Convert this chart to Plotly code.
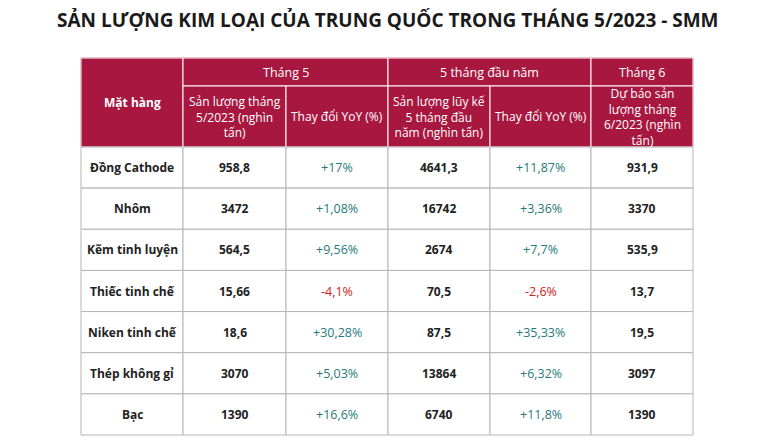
import plotly.graph_objects as go

# dữ liệu bảng
mat_hang = ["Đồng Cathode", "Nhôm", "Kẽm tinh luyện", "Thiếc tinh chế",
            "Niken tinh chế", "Thép không gỉ", "Bạc"]
sl_thang5 = ["958,8", "3472", "564,5", "15,66", "18,6", "3070", "1390"]
yoy_thang5 = ["+17%", "+1,08%", "+9,56%", "-4,1%", "+30,28%", "+5,03%", "+16,6%"]
luy_ke = ["4641,3", "16742", "2674", "70,5", "87,5", "13864", "6740"]
yoy_luy_ke = ["+11,87%", "+3,36%", "+7,7%", "-2,6%", "+35,33%", "+6,32%", "+11,8%"]
du_bao = ["931,9", "3370", "535,9", "13,7", "19,5", "3097", "1390"]

nhom_cot = ["Tháng 5", "5 tháng đầu năm", "Tháng 6"]
tieu_de_cot = ["Sản lượng tháng<br>5/2023 (nghìn<br>tấn)", "Thay đổi YoY (%)",
               "Sản lượng lũy kế<br>5 tháng đầu<br>năm (nghìn tấn)", "Thay đổi YoY (%)",
               "Dự báo sản<br>lượng tháng<br>6/2023 (nghìn<br>tấn)"]

W, H = 772, 446
OFF = 8  # lề mặc định của trang
RED = "#A8173F"
GREEN = "#1f7a7a"
NEG = "#cc2222"
FONT = "Open Sans"

xs = [81, 183, 286, 388, 490, 591, 693]
y_top, y_h1, y_h2 = 58, 86, 147
row_h = (435 - y_h2) / len(mat_hang)

fig = go.Figure()
shapes, ann = [], []


def rect(x0, y0, x1, y1, fill, line):
    shapes.append(dict(type="rect", xref="x", yref="y", x0=x0, x1=x1, y0=y0, y1=y1,
                       fillcolor=fill, line=dict(color=line, width=1)))


def text(x, y, s, color, bold=False, size=12):
    ann.append(dict(x=x, y=y, xref="x", yref="y", text=f"<b>{s}</b>" if bold else s,
                    showarrow=False, font=dict(family=FONT, size=size, color=color),
                    xanchor="center", yanchor="middle"))


# header
rect(xs[0], y_top, xs[-1], y_h2, RED, RED)
rect(xs[0], y_top, xs[1], y_h2, RED, "white")
spans = [(1, 3), (3, 5), (5, 6)]
for (a, b), s in zip(spans, nhom_cot):
    rect(xs[a], y_top, xs[b], y_h1, RED, "white")
    text((xs[a] + xs[b]) / 2, (y_top + y_h1) / 2, s, "white", size=12.5)
for i, s in enumerate(tieu_de_cot):
    rect(xs[i + 1], y_h1, xs[i + 2], y_h2, RED, "white")
    text((xs[i + 1] + xs[i + 2]) / 2, (y_h1 + y_h2) / 2, s, "white")
text((xs[0] + xs[1]) / 2, (y_top + y_h2) / 2, "Mặt hàng", "white", bold=True)

# body
cols = [mat_hang, sl_thang5, yoy_thang5, luy_ke, yoy_luy_ke, du_bao]
for r in range(len(mat_hang)):
    y0 = y_h2 + r * row_h
    for c, col in enumerate(cols):
        rect(xs[c], y0, xs[c + 1], y0 + row_h, "white", "#b5b5b5")
        v = col[r]
        if c in (2, 4):
            text((xs[c] + xs[c + 1]) / 2, y0 + row_h / 2, v,
                 NEG if v.startswith("-") else GREEN, size=12.5)
        else:
            text((xs[c] + xs[c + 1]) / 2, y0 + row_h / 2, v, "#222", bold=True)

text(W / 2 + 2, 20, "SẢN LƯỢNG KIM LOẠI CỦA TRUNG QUỐC TRONG THÁNG 5/2023 - SMM",
     "#1a1a1a", bold=True, size=19)

fig.update_layout(width=W, height=H, margin=dict(l=0, r=0, t=0, b=0),
                  plot_bgcolor="white", paper_bgcolor="white",
                  xaxis=dict(range=[OFF, W + OFF], visible=False, fixedrange=True),
                  yaxis=dict(range=[H + OFF, OFF], visible=False, fixedrange=True),
                  shapes=shapes, annotations=ann, showlegend=False)
fig.write_html("out.html")
